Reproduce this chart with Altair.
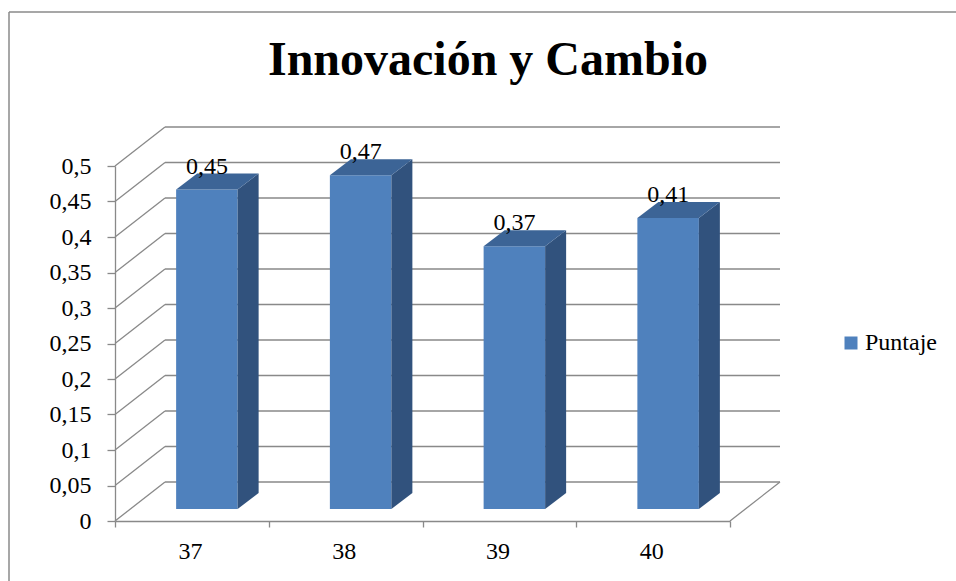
import json
import altair as alt
import pandas as pd

# ---------------- data ----------------
categories = ["37", "38", "39", "40"]
values = [0.45, 0.47, 0.37, 0.41]
series_name = "Puntaje"
y_ticks = [0, 0.05, 0.1, 0.15, 0.2, 0.25, 0.3, 0.35, 0.4, 0.45, 0.5]
title_text = "Innovación y Cambio"

# ---------------- style / layout ----------------
W, H = 615, 355
N = len(categories)
Y_MAX = 0.5
FONT = "Times New Roman, Liberation Serif, DejaVu Serif, serif"
FS = 24
GRID = "#898989"
FRONT = "#4F81BD"
SIDE = "#31527D"
TOP = "#3C6496"

WALL_DX, WALL_DY = 50, -39      # depth of walls (px)
BAR_DX, BAR_DY = 15, -12        # bar placement inside depth (px)
SIDE_DX, SIDE_DY = 21, -16      # bar depth (px)
BAR_HALF = 0.2                  # half bar width in category units

PX_X = N / W        # data units per pixel (x)
PX_Y = Y_MAX / H    # data units per pixel (y)

bars = pd.DataFrame({"cat": categories, "idx": list(range(N)),
                     "value": values, "serie": series_name})
faces = bars.merge(pd.DataFrame({"edge": [0, 1]}), how="cross")
ticks_df = pd.DataFrame({"v": y_ticks})
one = pd.DataFrame({"a": [0]})

xscale = alt.Scale(domain=[0, N], nice=False, zero=False)
yscale = alt.Scale(domain=[0, Y_MAX], nice=False, zero=True)

x_labels = json.dumps(categories)
xaxis = alt.Axis(values=list(range(N + 1)), title=None, grid=False,
                 labelExpr=f"{x_labels}[datum.value] || ''",
                 labelOffset=W / N / 2 - 2, labelFlush=False, labelOverlap=False,
                 tickSize=6, labelPadding=12, labelFont=FONT, labelFontSize=FS,
                 labelColor="black", domainColor=GRID, tickColor=GRID,
                 domainWidth=1.3, tickWidth=1.3)
yaxis = alt.Axis(values=y_ticks, title=None, grid=False,
                 labelExpr="replace(format(datum.value, '~g'), '.', ',')",
                 tickSize=8, labelPadding=16, labelFont=FONT, labelFontSize=FS,
                 labelColor="black", domainColor=GRID, tickColor=GRID,
                 labelOverlap=False, labelFlush=False,
                 domainWidth=1.3, tickWidth=1.3)


def X(field=None, datum=None):
    if datum is not None:
        return alt.X(datum=datum, type="quantitative", scale=xscale, axis=xaxis)
    return alt.X(field, type="quantitative", scale=xscale, axis=xaxis)


def Y(field=None, datum=None):
    if datum is not None:
        return alt.Y(datum=datum, type="quantitative", scale=yscale, axis=yaxis)
    return alt.Y(field, type="quantitative", scale=yscale, axis=yaxis)


# back wall gridlines
back = alt.Chart(ticks_df).mark_rule(
    color=GRID, strokeWidth=1.3,
    xOffset=WALL_DX, x2Offset=WALL_DX, yOffset=WALL_DY, y2Offset=WALL_DY
).encode(x=X(datum=0), x2=alt.X2(datum=N), y=Y("v"))

# side wall diagonals
diag = alt.Chart(ticks_df).mark_rule(
    color=GRID, strokeWidth=1.3, x2Offset=WALL_DX, y2Offset=WALL_DY
).encode(x=X(datum=0), x2=alt.X2(datum=0), y=Y("v"), y2=alt.Y2("v"))

# right floor diagonal
floor_r = alt.Chart(one).mark_rule(
    color=GRID, strokeWidth=1.3, x2Offset=WALL_DX, y2Offset=WALL_DY
).encode(x=X(datum=N), x2=alt.X2(datum=N), y=Y(datum=0), y2=alt.Y2(datum=0))

# bar front faces
front = alt.Chart(bars).transform_calculate(
    xl=f"datum.idx + 0.5 - {BAR_HALF}", xr=f"datum.idx + 0.5 + {BAR_HALF}"
).mark_rect(
    xOffset=BAR_DX, x2Offset=BAR_DX, yOffset=BAR_DY, y2Offset=BAR_DY
).encode(
    x=X("xl"), x2=alt.X2("xr"), y=Y("value"), y2=alt.Y2(datum=0),
    color=alt.Color("serie:N", scale=alt.Scale(range=[FRONT]),
                    legend=alt.Legend(orient="none", legendX=724, legendY=165,
                                      title=None, symbolType="square",
                                      symbolSize=169, symbolStrokeWidth=0,
                                      labelFont=FONT, labelFontSize=FS,
                                      labelColor="black", labelOffset=2,
                                      padding=0)),
)

# bar side faces
side = alt.Chart(faces).transform_calculate(
    xs=f"datum.idx + 0.5 + {BAR_HALF} + datum.edge * {SIDE_DX * PX_X}",
    yt=f"datum.value - datum.edge * {SIDE_DY * PX_Y}",
    yb=f"0 - datum.edge * {SIDE_DY * PX_Y}",
).mark_area(
    color=SIDE, xOffset=BAR_DX, yOffset=BAR_DY, y2Offset=BAR_DY
).encode(x=X("xs"), y=Y("yt"), y2=alt.Y2("yb"), detail="cat:N")

# bar top faces
top = alt.Chart(faces).transform_calculate(
    yv=f"datum.value - datum.edge * {SIDE_DY * PX_Y}",
    xl=f"datum.idx + 0.5 - {BAR_HALF} + datum.edge * {SIDE_DX * PX_X}",
    xr=f"datum.idx + 0.5 + {BAR_HALF} + datum.edge * {SIDE_DX * PX_X}",
).mark_area(
    color=TOP, orient="horizontal", xOffset=BAR_DX, x2Offset=BAR_DX, yOffset=BAR_DY
).encode(y=Y("yv"), x=X("xl"), x2=alt.X2("xr"), detail="cat:N")

# value labels
labels = alt.Chart(bars).transform_calculate(
    xc="datum.idx + 0.5",
    lab="replace(toString(datum.value), '.', ',')",
).mark_text(
    font=FONT, fontSize=FS, color="black", baseline="alphabetic",
    dx=BAR_DX, dy=BAR_DY + SIDE_DY
).encode(x=X("xc"), y=Y("value"), text="lab:N")

# title
title = alt.Chart(pd.DataFrame({"t": [title_text]})).mark_text(
    font=FONT, fontSize=48, fontWeight="bold", color="black",
    baseline="alphabetic", align="center"
).encode(x=alt.value(373), y=alt.value(-91), text="t:N")

# chart frame (top and left edges)
frame_l = alt.Chart(one).mark_rule(color="#8a8a8a", strokeWidth=1.5).encode(
    x=alt.value(-106), x2=alt.value(-106), y=alt.value(-154), y2=alt.value(H + 70))
frame_t = alt.Chart(one).mark_rule(color="#8a8a8a", strokeWidth=1.5).encode(
    x=alt.value(-106), x2=alt.value(W + 240), y=alt.value(-154), y2=alt.value(-154))

chart = alt.layer(
    back, diag, floor_r, front, side, top, labels, title, frame_l, frame_t
).properties(
    width=W, height=H,
    padding={"left": 115, "top": 166, "right": 956 - 115 - W, "bottom": 581 - 166 - H},
    autosize=alt.AutoSizeParams(type="none"),
    background="white",
).configure_view(stroke=None)

chart.save("out.html", embed_options={"renderer": "svg", "actions": False})
